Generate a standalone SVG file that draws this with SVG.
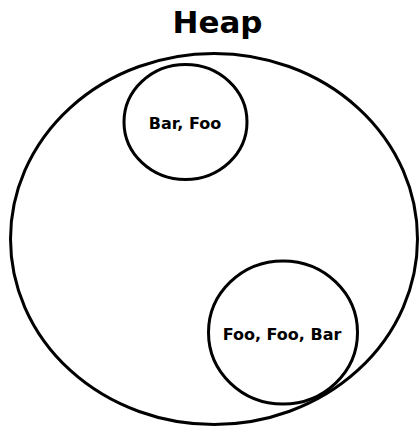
<svg xmlns="http://www.w3.org/2000/svg" width="419" height="428" viewBox="0 0 419 428">
  <style>
    .shape { fill: none; stroke: #000; stroke-width: 3; }
    .label { font-family: "DejaVu Sans", "Liberation Sans", sans-serif; font-weight: bold; fill: #000; text-anchor: middle; }
  </style>
  <rect width="419" height="428" fill="#fff"/>
  <g id="heap">
    <ellipse class="shape" cx="214" cy="239" rx="203.5" ry="185.5"/>
    <text class="label" x="217.5" y="33" font-size="31">Heap</text>
  </g>
  <g id="group-bar-foo">
    <ellipse class="shape" cx="185.5" cy="122" rx="61.5" ry="57.5"/>
    <text class="label" x="185" y="129" font-size="16">Bar, Foo</text>
  </g>
  <g id="group-foo-foo-bar">
    <ellipse class="shape" cx="283" cy="332.5" rx="74.5" ry="71.5"/>
    <text class="label" x="282" y="339.5" font-size="16">Foo, Foo, Bar</text>
  </g>
  <g id="connectors"></g>
</svg>
